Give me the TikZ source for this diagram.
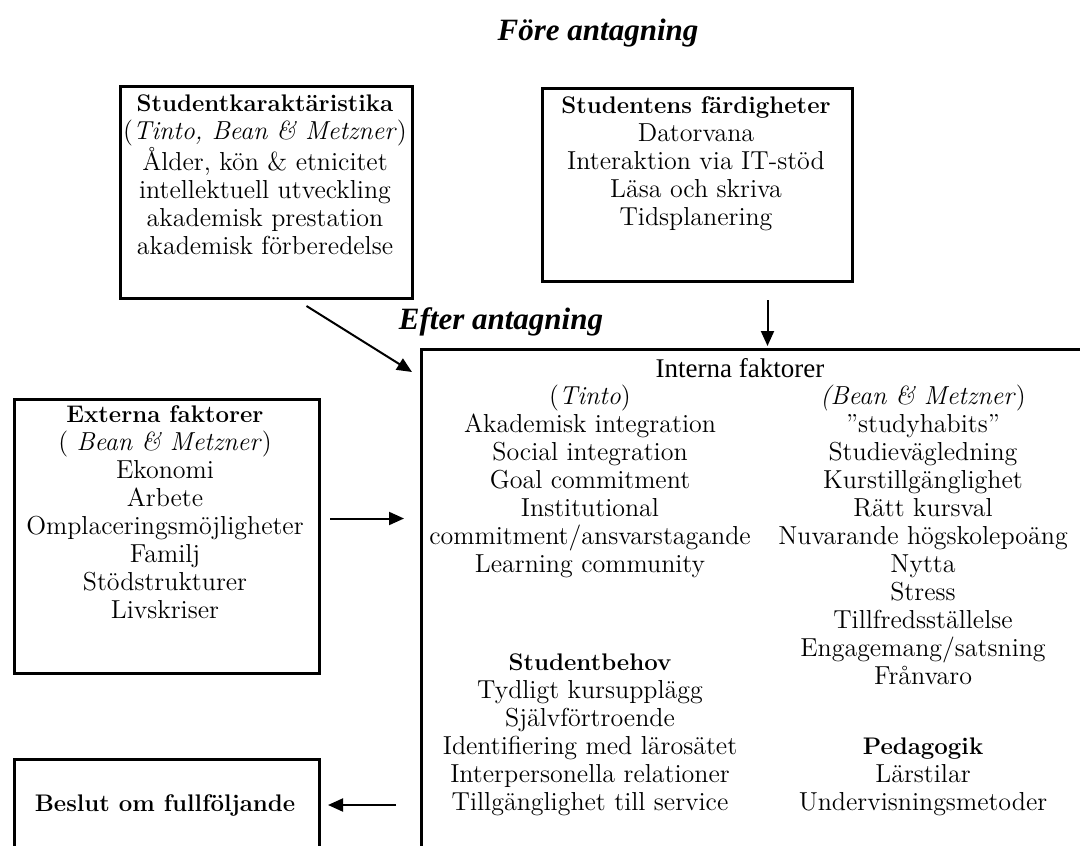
\documentclass[tikz,border=0pt]{standalone}
\usepackage{fontspec}
\newfontfamily\headfont{Liberation Serif}
\usetikzlibrary{arrows.meta,calc,positioning}
\newcommand\boxtitle[1]{{\fontsize{12}{14}\selectfont\bfseries #1}}

\begin{document}
\begin{tikzpicture}[x=0.5pt,y=-0.5pt,>={Triangle[length=7.5pt,width=6.5pt]},
    frame/.style={draw,line width=1.5pt,anchor=north west,inner sep=0pt},
    txt/.style={align=center,inner sep=0pt,font=\fontsize{13}{14}\selectfont},
    head/.style={inner sep=0pt,font=\headfont\fontsize{15.5}{18}\selectfont\bfseries\itshape},
    arr/.style={->,line width=1pt}]

    \useasboundingbox (0,0) rectangle (1080,845);
    \clip (0,0) rectangle (1080,845);

    % headings
    \node[head] (fore) at (598,33) {Före antagning};
    \node[head] (efter) at (501,322) {Efter antagning};

    % boxes
    \node[frame,minimum width=146pt,minimum height=106pt] (karbox) at (119,85) {};
    \node[frame,minimum width=155pt,minimum height=96.5pt] (ferdbox) at (541,87) {};
    \node[frame,minimum width=152.5pt,minimum height=137pt] (extbox) at (13,398) {};
    \node[frame,minimum width=152.5pt,minimum height=120pt] (beslutbox) at (13,758) {};
    \node[frame,minimum width=350pt,minimum height=280pt] (internbox) at (420,348) {};

    % box texts
    \node[txt,anchor=north] (kar) at (265,94) {\boxtitle{Studentkaraktäristika}\\
        (\textit{Tinto, Bean \& Metzner})\\ Ålder, kön \& etnicitet\\
        intellektuell utveckling\\ akademisk prestation\\ akademisk förberedelse};
    \node[txt,anchor=north] (ferd) at (696,96) {\boxtitle{Studentens färdigheter}\\
        Datorvana\\ Interaktion via IT-stöd\\ Läsa och skriva\\ Tidsplanering};
    \node[txt,anchor=north] (ext) at (165,405) {\boxtitle{Externa faktorer}\\
        ( \textit{Bean \& Metzner})\\ Ekonomi\\ Arbete\\ Omplaceringsmöjligheter\\
        Familj\\ Stödstrukturer\\ Livskriser};
    \node[txt] (beslut) at (165,805) {\boxtitle{Beslut om fullföljande}};

    % inside the large box
    \node[txt,font=\headfont\fontsize{13.5}{14}\selectfont] (intern) at (740,368) {Interna faktorer};
    \node[txt,anchor=north] (tinto) at (590,385) {(\textit{Tinto})\\
        Akademisk integration\\ Social integration\\ Goal commitment\\ Institutional\\
        commitment/ansvarstagande\\ Learning community};
    \node[txt,anchor=north] (behov) at (590,653) {\boxtitle{Studentbehov}\\
        Tydligt kursupplägg\\ Självförtroende\\ Identifiering med lärosätet\\
        Interpersonella relationer\\ Tillgänglighet till service};
    \node[txt,anchor=north] (bean) at (923,385) {\textit{(Bean \& Metzner})\\
        ”studyhabits”\\ Studievägledning\\ Kurstillgänglighet\\ Rätt kursval\\
        Nuvarande högskolepoäng\\ Nytta\\ Stress\\ Tillfredsställelse\\
        Engagemang/satsning\\ Frånvaro};
    \node[txt,anchor=north] (pedag) at (923,737) {\boxtitle{Pedagogik}\\
        Lärstilar\\ Undervisningsmetoder};

    % connectors
    \draw[arr] ($(karbox.south)+(40,6)$) -- ($(internbox.north west)+(-8,24)$);
    \draw[arr] ($(internbox.north)+(-4,-48)$) -- ($(internbox.north)+(-4,-2)$);
    \draw[arr] ($(extbox.east)+(9,-18)$) -- ($(extbox.east)+(83,-18)$);
    \draw[arr] ($(beslutbox.north east)+(75,47)$) -- ($(beslutbox.north east)+(7,47)$);
\end{tikzpicture}
\end{document}
